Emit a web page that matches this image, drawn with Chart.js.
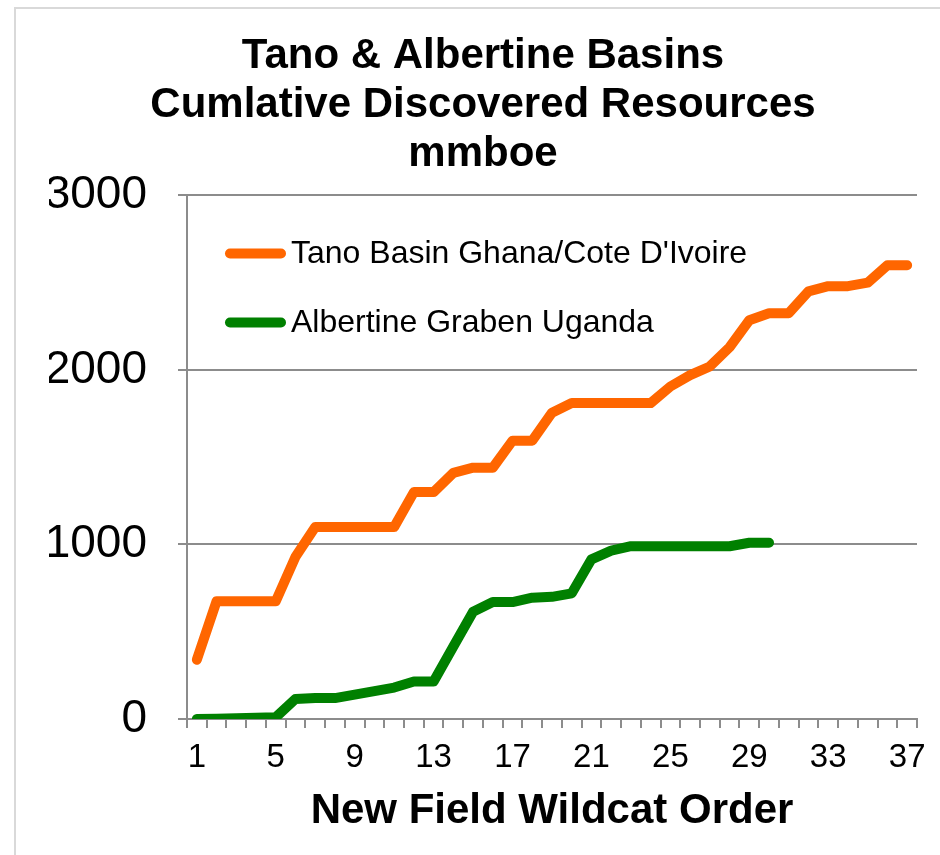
<!DOCTYPE html>
<html>
<head>
<meta charset="utf-8">
<script src="https://cdn.jsdelivr.net/npm/chart.js@4"></script>
<style>
  html, body { margin: 0; padding: 0; background: #ffffff; }
  #wrap { position: relative; width: 940px; height: 855px; }
  canvas { display: block; }
</style>
</head>
<body>
<div id="wrap"><canvas id="c" width="940" height="855"></canvas></div>
<script>
// ---- data ----
const categories = ['1','2','3','4','5','6','7','8','9','10','11','12','13','14','15','16','17','18','19','20','21','22','23','24','25','26','27','28','29','30','31','32','33','34','35','36','37'];
const tanoValues = [340,675,675,675,675,930,1100,1100,1100,1100,1100,1300,1300,1410,1440,1440,1595,1595,1755,1810,1810,1810,1810,1810,1905,1970,2020,2130,2285,2325,2325,2450,2480,2480,2500,2600,2600];
const albertineValues = [0,2,5,7,10,115,120,120,140,160,180,215,215,415,615,670,670,695,700,720,915,965,990,990,990,990,990,990,1010,1010];
const seriesNames = ['Tano Basin Ghana/Cote D\'Ivoire', 'Albertine Graben Uganda'];
const titleLines = ['Tano & Albertine Basins', 'Cumlative Discovered Resources', 'mmboe'];
const xAxisTitle = 'New Field Wildcat Order';
const yTicks = [0, 1000, 2000, 3000];

const FONT = '"Liberation Sans", Arial, Helvetica, sans-serif';
const GRID = '#8c8c8c';

const framePlugin = {
  id: 'frame',
  beforeDraw(chart) {
    const ctx = chart.ctx;
    ctx.save();
    ctx.strokeStyle = '#d9d9d9';
    ctx.lineWidth = 2;
    ctx.beginPath();
    ctx.moveTo(15, 860);
    ctx.lineTo(15, 8);
    ctx.lineTo(945, 8);
    ctx.stroke();
    ctx.restore();
  }
};

const legendPlugin = {
  id: 'insideLegend',
  afterDatasetsDraw(chart) {
    const ctx = chart.ctx;
    const a = chart.chartArea;
    ctx.save();
    chart.data.datasets.forEach((ds, i) => {
      const y = a.top + 58 + i * 69;
      const x0 = a.left + 43;
      ctx.strokeStyle = ds.borderColor;
      ctx.lineWidth = 10;
      ctx.lineCap = 'round';
      ctx.beginPath();
      ctx.moveTo(x0, y);
      ctx.lineTo(x0 + 51, y);
      ctx.stroke();
      ctx.fillStyle = '#000000';
      ctx.font = '32px ' + FONT;
      ctx.textBaseline = 'middle';
      ctx.textAlign = 'left';
      ctx.fillText(ds.label, x0 + 61, y + 1);
    });
    ctx.restore();
  }
};

new Chart(document.getElementById('c'), {
  type: 'line',
  data: {
    labels: categories,
    datasets: [
      {
        label: seriesNames[0],
        data: tanoValues,
        borderColor: '#ff6600',
        backgroundColor: '#ff6600',
        borderWidth: 10,
        borderCapStyle: 'round',
        borderJoinStyle: 'round',
        pointRadius: 0,
        tension: 0,
        fill: false
      },
      {
        label: seriesNames[1],
        data: albertineValues,
        borderColor: '#008000',
        backgroundColor: '#008000',
        borderWidth: 10,
        borderCapStyle: 'round',
        borderJoinStyle: 'round',
        pointRadius: 0,
        tension: 0,
        fill: false
      }
    ]
  },
  options: {
    responsive: false,
    animation: false,
    devicePixelRatio: 1,
    layout: { padding: { left: 49, right: 23, top: 0, bottom: 0 } },
    plugins: {
      legend: { display: false },
      tooltip: { enabled: false },
      title: {
        display: true,
        text: titleLines,
        color: '#000000',
        font: { family: FONT, size: 42, weight: 'bold', lineHeight: 1.17 },
        padding: { top: 32, bottom: 16 }
      }
    },
    scales: {
      x: {
        type: 'category',
        offset: true,
        afterFit(scale) { scale.height = 136; },
        grid: {
          offset: true,
          drawOnChartArea: false,
          drawTicks: true,
          tickLength: 9,
          color: GRID,
          lineWidth: 2
        },
        border: { display: true, color: GRID, width: 2 },
        ticks: {
          autoSkip: false,
          maxRotation: 0,
          minRotation: 0,
          color: '#000000',
          font: { family: FONT, size: 33 },
          padding: 10,
          callback(value, index) { return index % 4 === 0 ? categories[index] : ''; }
        },
        title: {
          display: true,
          text: xAxisTitle,
          color: '#000000',
          font: { family: FONT, size: 42, weight: 'bold' },
          padding: { top: 8, bottom: 18 }
        }
      },
      y: {
        min: 0,
        max: 3000,
        afterFit(scale) { scale.width = 138; },
        afterBuildTicks(scale) { scale.ticks = yTicks.map(v => ({ value: v })); },
        grid: {
          color: GRID,
          lineWidth: 2,
          drawTicks: true,
          tickLength: 9
        },
        border: { display: true, color: GRID, width: 2 },
        ticks: {
          color: '#000000',
          font: { family: FONT, size: 46 },
          padding: 31,
          callback(value) { return String(value); }
        }
      }
    }
  },
  plugins: [framePlugin, legendPlugin]
});
</script>
</body>
</html>
